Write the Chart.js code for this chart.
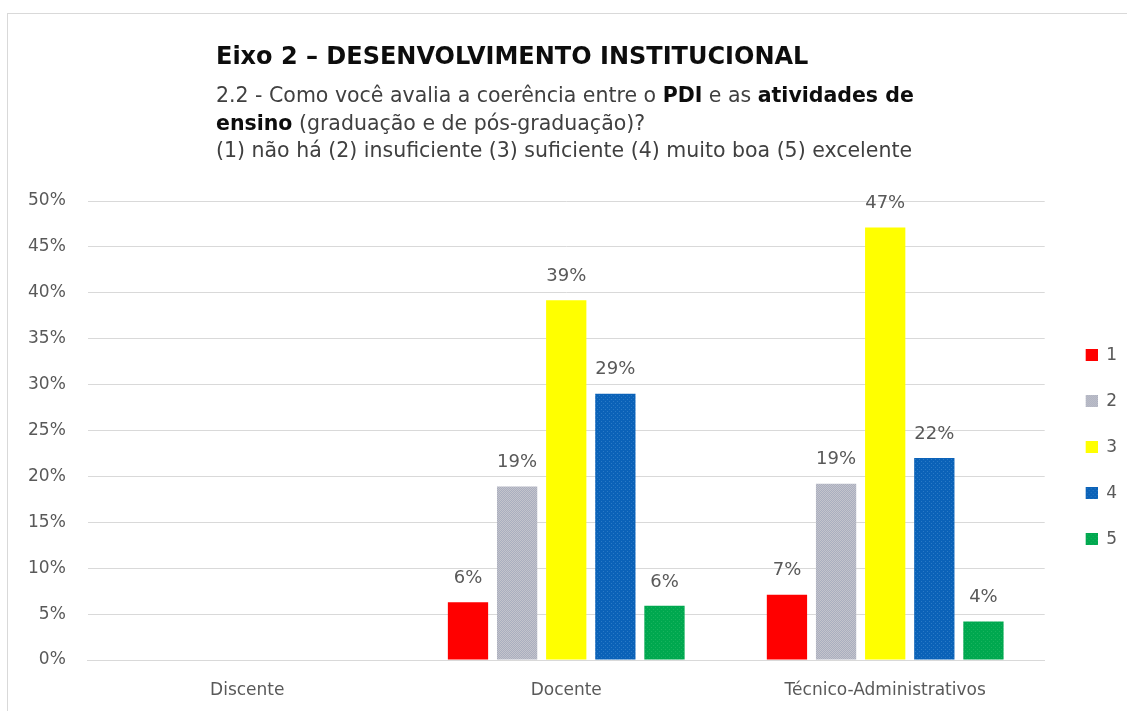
<!DOCTYPE html>
<html>
<head>
<meta charset="utf-8">
<script src="https://cdn.jsdelivr.net/npm/chart.js@4/dist/chart.umd.min.js"></script>
<style>
  html, body { margin: 0; padding: 0; background: #fff; overflow: hidden; }
  #box { position: absolute; left: 7px; top: 13px; width: 1130px; height: 710px; border: 1px solid #d9d9d9; }
  #wrap { position: absolute; left: 0; top: 0; width: 1127px; height: 711px; }
</style>
</head>
<body>
<div id="box"></div>
<div id="wrap"><canvas id="grafico"></canvas></div>
<script>
'use strict';

// categorias e valores (%)
var categorias = ['Discente', 'Docente', 'Técnico-Administrativos'];
var respostas = ['1', '2', '3', '4', '5'];
var resp1 = [null, 6.3, 7.1];
var resp2 = [null, 18.9, 19.2];
var resp3 = [null, 39.2, 47.1];
var resp4 = [null, 29.0, 22.0];
var resp5 = [null, 5.9, 4.2];
var yTicks = [0, 5, 10, 15, 20, 25, 30, 35, 40, 45, 50];

var FONTE = '"DejaVu Sans", sans-serif';
var CINZA = '#595959';

function padrao(c1, c2, tipo) {
  var cv = document.createElement('canvas');
  cv.width = 4; cv.height = 4;
  var g = cv.getContext('2d');
  g.fillStyle = c1;
  g.fillRect(0, 0, 4, 4);
  g.fillStyle = c2;
  if (tipo === 'xadrez') {
    for (var i = 0; i < 4; i++) {
      for (var j = 0; j < 4; j++) {
        if ((i + j) % 2 === 0) g.fillRect(i, j, 1, 1);
      }
    }
  } else {
    g.fillRect(1, 1, 1, 1);
    g.fillRect(3, 3, 1, 1);
  }
  return g.createPattern(cv, 'repeat');
}

var cores = [
  '#ff0000',
  padrao('#a9aebf', '#c4c4cc', 'xadrez'),
  '#ffff00',
  padrao('#0b62b8', '#2a7ac6', 'pontos'),
  padrao('#00a84f', '#18b45e', 'pontos')
];
var valores = [resp1, resp2, resp3, resp4, resp5];

// marcador da legenda: quadrado 12x12 encostado à direita de uma área de 24px
function marcador(cor) {
  var cv = document.createElement('canvas');
  cv.width = 24; cv.height = 12;
  var g = cv.getContext('2d');
  g.fillStyle = cor;
  g.fillRect(12, 0, 12, 12);
  return cv;
}

var tituloPlugin = {
  id: 'tituloRico',
  afterDraw: function (chart) {
    var c = chart.ctx;
    c.save();
    c.textBaseline = 'alphabetic';
    c.textAlign = 'left';
    var linhas = [
      { y: 64, size: 24, runs: [['Eixo 2 – DESENVOLVIMENTO INSTITUCIONAL', true]] },
      { y: 102, size: 20.5, runs: [['2.2 - Como você avalia a coerência entre o ', false], ['PDI', true], [' e as ', false], ['atividades de', true]] },
      { y: 130, size: 20.5, runs: [['ensino', true], [' (graduação e de pós-graduação)?', false]] },
      { y: 157, size: 20.5, runs: [['(1) não há (2) insuficiente (3) suficiente (4) muito boa (5) excelente', false]] }
    ];
    linhas.forEach(function (l) {
      var x = 216;
      l.runs.forEach(function (r) {
        c.font = (r[1] ? 'bold ' : '') + l.size + 'px ' + FONTE;
        c.fillStyle = r[1] ? '#0d0d0d' : '#404040';
        c.fillText(r[0], x, l.y);
        x += c.measureText(r[0]).width;
      });
    });
    c.restore();
  }
};

var rotulosPlugin = {
  id: 'rotulos',
  afterDatasetsDraw: function (chart) {
    var c = chart.ctx;
    c.save();
    c.font = '18px ' + FONTE;
    c.fillStyle = CINZA;
    c.textAlign = 'center';
    c.textBaseline = 'bottom';
    chart.data.datasets.forEach(function (ds, i) {
      chart.getDatasetMeta(i).data.forEach(function (bar, j) {
        var v = ds.data[j];
        if (v === null || v === undefined) return;
        c.fillText(Math.round(v) + '%', bar.x, bar.y - 15);
      });
    });
    c.restore();
  }
};

var ctx = document.getElementById('grafico').getContext('2d');
new Chart(ctx, {
  type: 'bar',
  data: {
    labels: categorias,
    datasets: respostas.map(function (r, i) {
      return {
        label: r,
        data: valores[i],
        backgroundColor: cores[i],
        borderWidth: 0,
        categoryPercentage: 0.77,
        barPercentage: 0.82
      };
    })
  },
  options: {
    responsive: true,
    maintainAspectRatio: false,
    animation: false,
    layout: { padding: { top: 201, left: 6, right: 0, bottom: 0 } },
    plugins: {
      title: { display: false },
      tooltip: { enabled: false },
      legend: {
        position: 'right',
        fullSize: false,
        title: { display: true, text: '', font: { size: 1 }, padding: { top: 32, bottom: 0 } },
        labels: {
          usePointStyle: true,
          pointStyleWidth: 24,
          padding: 29,
          color: CINZA,
          font: { family: FONTE, size: 17 },
          generateLabels: function (chart) {
            return chart.data.datasets.map(function (ds, i) {
              return {
                text: ds.label,
                pointStyle: marcador(cores[i]),
                fillStyle: cores[i],
                strokeStyle: 'transparent',
                lineWidth: 0,
                fontColor: CINZA,
                datasetIndex: i
              };
            });
          }
        }
      }
    },
    scales: {
      x: {
        grid: { display: false, drawTicks: false },
        border: { display: true, color: '#d9d9d9' },
        ticks: { color: CINZA, font: { family: FONTE, size: 17 }, padding: 20 },
        afterFit: function (axis) { axis.height = 51; }
      },
      y: {
        min: 0,
        max: 50,
        afterBuildTicks: function (axis) {
          axis.ticks = yTicks.map(function (v) { return { value: v }; });
        },
        grid: { color: '#d9d9d9', drawTicks: false },
        border: { display: false },
        ticks: {
          color: CINZA,
          font: { family: FONTE, size: 17 },
          padding: 22,
          callback: function (v) { return v + '%'; }
        }
      }
    }
  },
  plugins: [tituloPlugin, rotulosPlugin]
});
</script>
</body>
</html>
